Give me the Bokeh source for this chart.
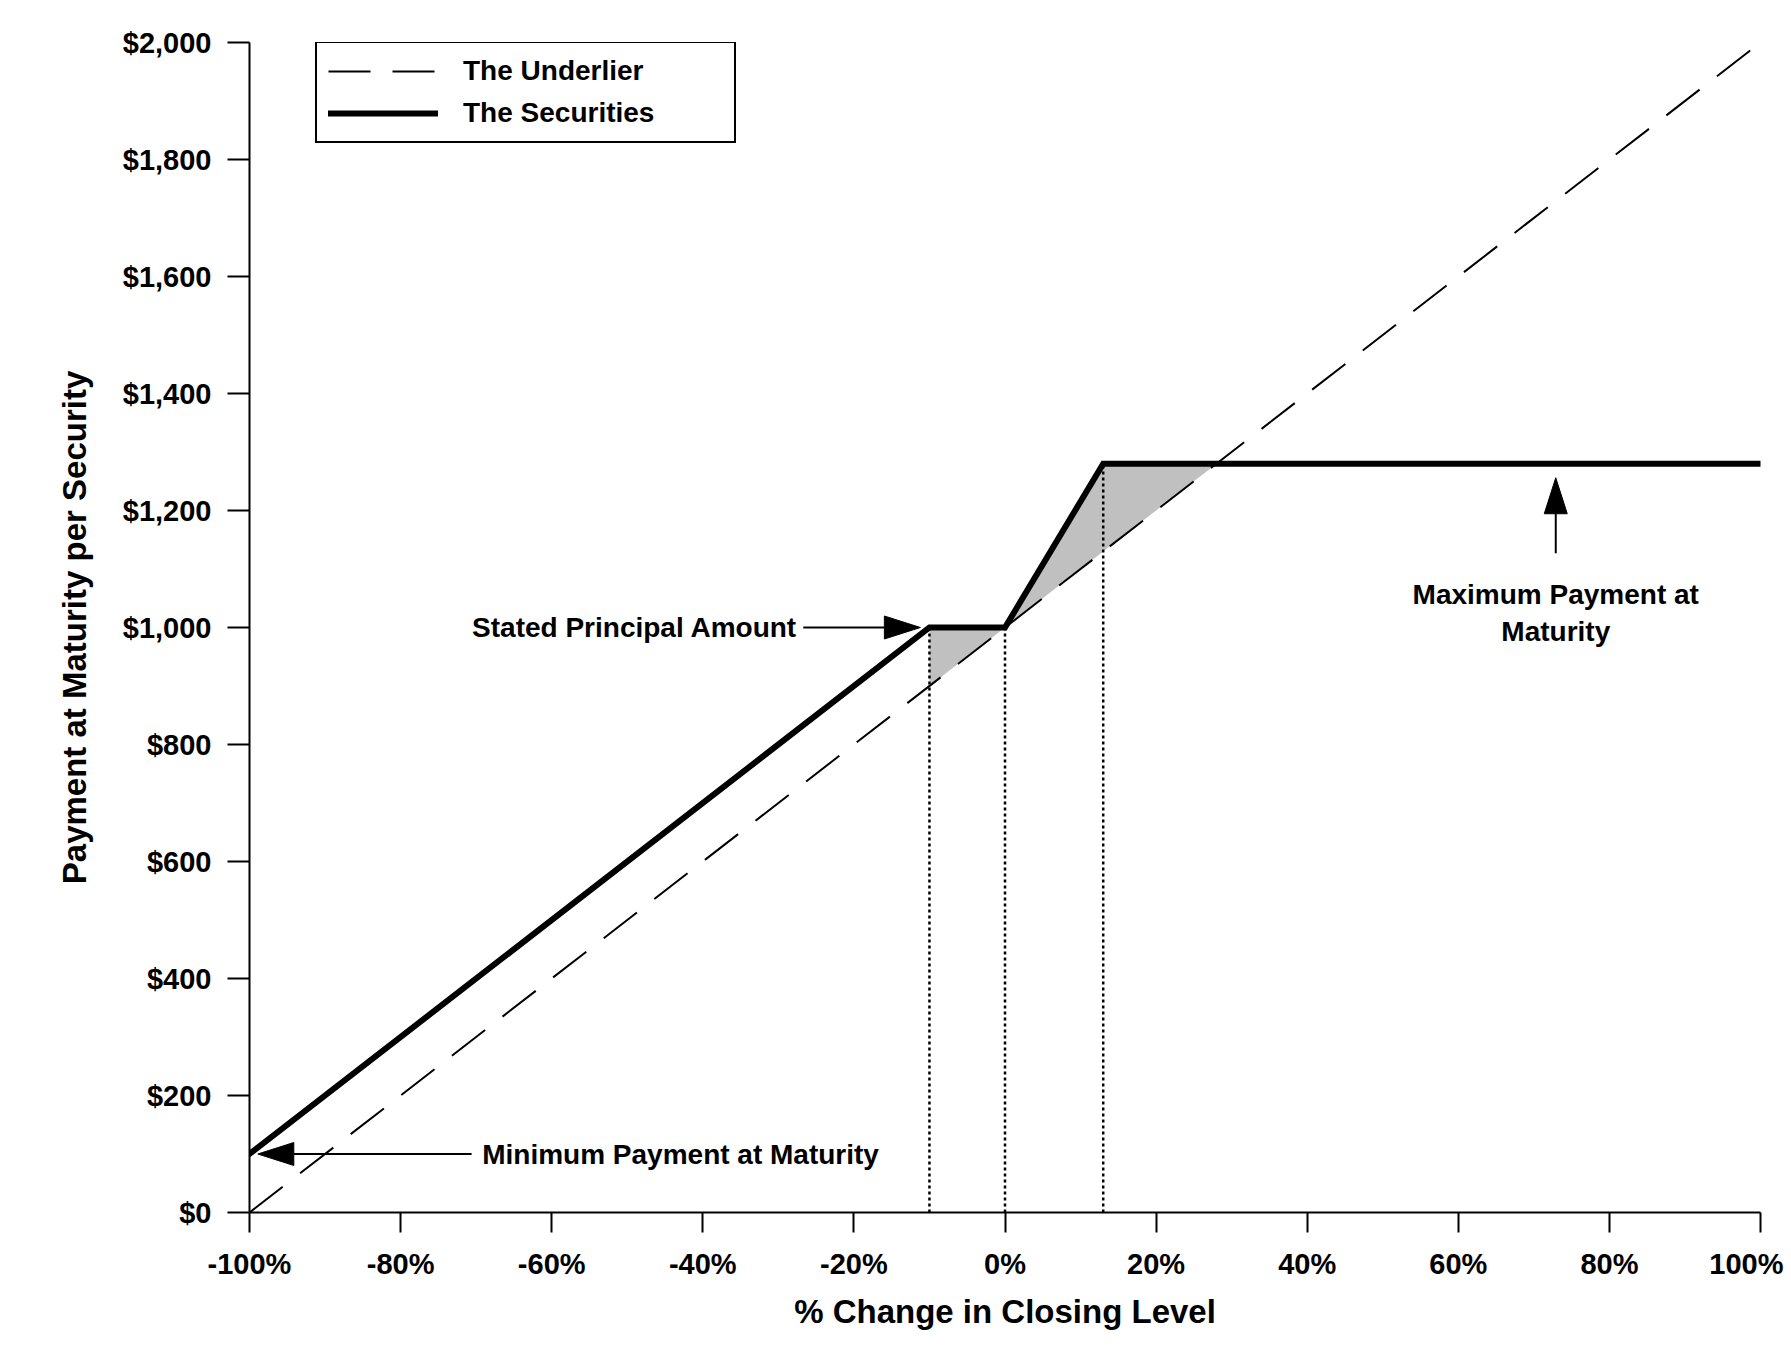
import numpy as np
from bokeh.plotting import figure
from bokeh.models import (FixedTicker, NumeralTickFormatter, PrintfTickFormatter,
                          Legend, LegendItem)
from bokeh.embed import file_html
from bokeh.resources import INLINE
from bokeh.core.properties import value

# ---------------- data ----------------
pct_ticks = [-100, -80, -60, -40, -20, 0, 20, 40, 60, 80, 100]
usd_ticks = [0, 200, 400, 600, 800, 1000, 1200, 1400, 1600, 1800, 2000]

underlier_x = [-100, 100]
underlier_y = [0, 2000]

securities_x = [-100, -10, 0, 13, 100]
securities_y = [100, 1000, 1000, 1280, 1280]

marker_x = [-10, 0, 13]          # dotted reference lines

ann_text = ["Stated Principal Amount", "Minimum Payment at Maturity",
            "Maximum Payment at\nMaturity"]
ann_text_x = [-27.5, -69.2, 72.9]
ann_text_y = [1000, 100, 1025]
ann_align = ["right", "left", "center"]
arrow_tail_x = [-26.7, -70.6, 72.9]
arrow_tail_y = [1000, 100, 1127]
arrow_tip_x = [-11.2, -98.9, 72.9]
arrow_tip_y = [1000, 100, 1256]

# ---------------- figure ----------------
FW, FH = 1511, 1170
XR, YR = (-100, 100), (0, 2000)
FONT = "Liberation Sans"

p = figure(frame_width=FW, frame_height=FH, x_range=XR, y_range=YR,
           output_backend="svg", toolbar_location=None,
           min_border_left=249, min_border_right=31,
           min_border_top=42, min_border_bottom=135)
p.xgrid.visible = False
p.ygrid.visible = False
p.outline_line_color = None
p.background_fill_color = "white"
p.border_fill_color = "white"

sx = FW / (XR[1] - XR[0])
sy = FH / (YR[1] - YR[0])

# shaded region between the securities and the underlier
cap = securities_y[-1]
x_cross = float(np.interp(cap, underlier_y, underlier_x))
left = securities_x[1]
shade_x = [x for x in securities_x if left <= x < x_cross] + [x_cross, left]
shade_y = [y for x, y in zip(securities_x, securities_y) if left <= x < x_cross] + \
          [cap, float(np.interp(left, underlier_x, underlier_y))]
p.patch(shade_x, shade_y, fill_color="#c0c0c0", line_color=None)

# dotted verticals
marker_top = [float(np.interp(x, securities_x, securities_y)) for x in marker_x]
p.segment(x0=marker_x, y0=[0] * len(marker_x), x1=marker_x, y1=marker_top,
          line_color="black", line_width=2.5, line_dash="3 3")

r_under = p.line(underlier_x, underlier_y, line_color="black", line_width=2,
                 line_dash="42 22")
r_sec = p.line(securities_x, securities_y, line_color="black", line_width=6,
               line_cap="round", line_join="miter")

# arrows
L, W = 36.0, 23.0
for tx, ty, hx, hy in zip(arrow_tail_x, arrow_tail_y, arrow_tip_x, arrow_tip_y):
    dx, dy = (hx - tx) * sx, (hy - ty) * sy
    n = np.hypot(dx, dy)
    ux, uy = dx / n, dy / n
    bx, by = hx * sx - ux * L, hy * sy - uy * L
    px, py = -uy * W / 2, ux * W / 2
    p.segment(x0=[tx], y0=[ty], x1=[bx / sx], y1=[by / sy],
              line_color="black", line_width=2)
    p.patch([hx, (bx + px) / sx, (bx - px) / sx], [hy, (by + py) / sy, (by - py) / sy],
            fill_color="black", line_color="black", line_width=1)

for t, x, y, a in zip(ann_text, ann_text_x, ann_text_y, ann_align):
    p.text(x=[x], y=[y], text=[t], text_align=a, text_baseline="middle",
           text_font=value(FONT), text_font_style="bold", text_font_size="28px",
           text_color="black", text_line_height=1.18)

# axes
for ax in (p.xaxis[0], p.yaxis[0]):
    ax.axis_line_width = 2
    ax.major_tick_line_width = 2
    ax.minor_tick_line_color = None
    ax.major_tick_in = 0
    ax.major_label_text_font = FONT
    ax.major_label_text_font_style = "bold"
    ax.major_label_text_font_size = "29px"
    ax.major_label_text_color = "black"
    ax.axis_label_text_font = FONT
    ax.axis_label_text_font_style = "bold"
    ax.axis_label_text_font_size = "33px"
    ax.axis_label_text_color = "black"

p.xaxis.ticker = FixedTicker(ticks=pct_ticks)
p.xaxis.formatter = PrintfTickFormatter(format="%d%%")
p.xaxis.major_tick_out = 20
p.xaxis.major_label_standoff = 15
p.xaxis.axis_label = "% Change in Closing Level"
p.xaxis.axis_label_standoff = 10
# last label nudged left so it stays inside the page (as in the original)
p.xaxis.major_label_overrides = {pct_ticks[-1]: "%d%%\u00a0" % pct_ticks[-1]}

p.yaxis.ticker = FixedTicker(ticks=usd_ticks)
p.yaxis.formatter = NumeralTickFormatter(format="$0,0")
p.yaxis.major_tick_out = 22
p.yaxis.major_label_standoff = 16
p.yaxis.axis_label = "Payment at Maturity per Security"
p.yaxis.axis_label_standoff = 27

legend = Legend(items=[LegendItem(label="The Underlier", renderers=[r_under]),
                       LegendItem(label="The Securities", renderers=[r_sec])],
                location=(66, FH - 101), padding=11, spacing=8,
                glyph_width=110, glyph_height=34, label_height=34,
                label_standoff=25, label_width=260,
                label_text_font=FONT, label_text_font_style="bold",
                label_text_font_size="28px", label_text_color="black",
                border_line_color="black", border_line_width=2, border_line_alpha=1.0,
                background_fill_color="white", background_fill_alpha=1.0,
                margin=0)
p.add_layout(legend)

open("out.html", "w").write(file_html(p, INLINE))
